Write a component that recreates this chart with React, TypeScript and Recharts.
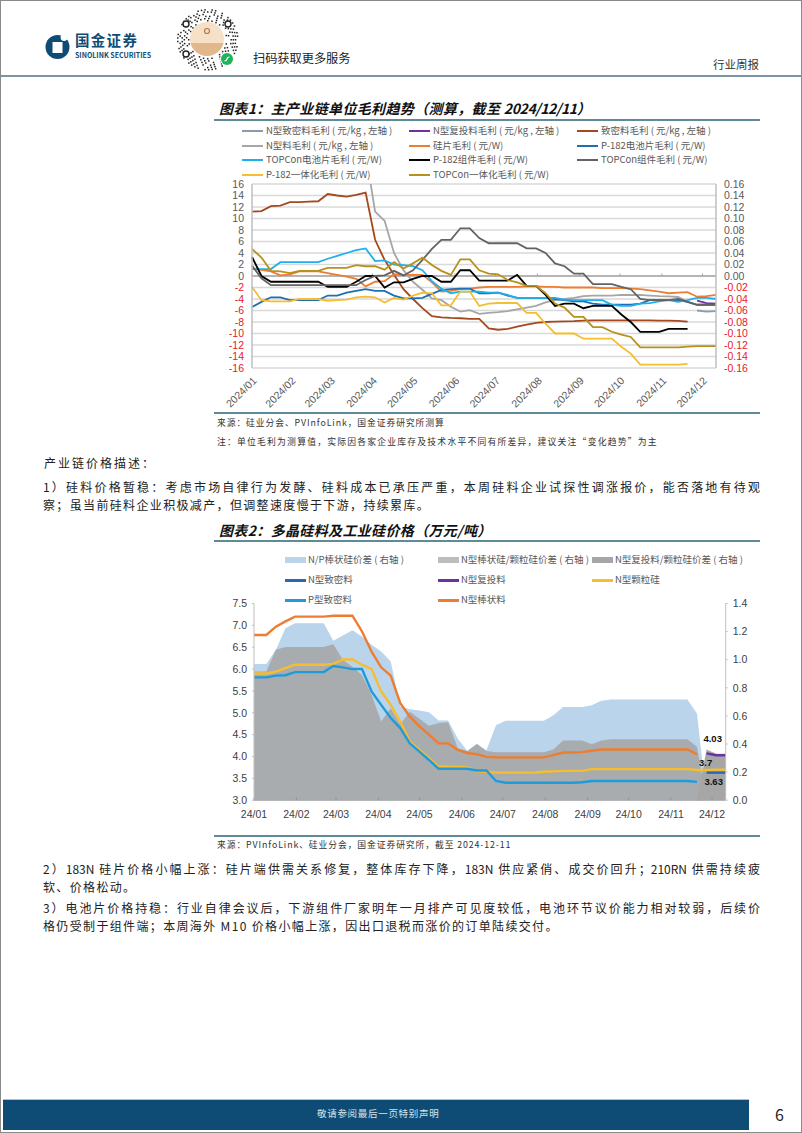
import React from 'react';
import {
  Area,
  ComposedChart,
  LabelList,
  Line,
  LineChart,
  CartesianGrid,
  ReferenceLine,
  XAxis,
  YAxis,
} from 'recharts';

const FONT = '"Noto Sans CJK SC", "Noto Sans", sans-serif';
const AXIS_FONT = '"Liberation Sans", "Noto Sans", sans-serif';
const TEXT_COLOR = '#595959';
const RED = '#e3202c';

// ---- chart 1: days since the first weekly reading (2024-01-03)
const marginDays = [
  0, 7, 14, 21, 28, 35, 42, 49, 56, 63, 70, 77, 84, 91, 98, 105, 112, 119, 126, 133, 140, 147, 154, 161, 168,
  175, 182, 189, 196, 203, 210, 217, 224, 231, 238, 245, 252, 259, 266, 273, 280, 287, 294, 301, 308, 315, 322, 329, 336, 343,
];
const marginMonthDays = [0, 29, 58, 89, 119, 150, 180, 211, 242, 272, 303, 333];
const marginMonthLabels = ['2024/01', '2024/02', '2024/03', '2024/04', '2024/05', '2024/06', '2024/07', '2024/08', '2024/09', '2024/10', '2024/11', '2024/12'];
const leftTicks = [16, 14, 12, 10, 8, 6, 4, 2, 0, -2, -4, -6, -8, -10, -12, -14, -16];
const rightTicks = [0.16, 0.14, 0.12, 0.1, 0.08, 0.06, 0.04, 0.02, 0, -0.02, -0.04, -0.06, -0.08, -0.1, -0.12, -0.14, -0.16];

const _ = null;
const denseMargin = [
  11.2, 11.3, 12.15, 12.25, 12.85, 12.85, 12.95, 13.0, 14.25, 14.0, 13.8, 14.1, 14.5, 6.3, 2.8, 0.2, -2.3, -4.0, -5.6, -7.0, -7.2, -7.3, -7.35, -7.45, -7.45,
  -9.1, -9.35, -9.2, -8.8, -8.45, -8.15, -8.0, -7.95, -7.9, -7.85, -7.75, -7.7, -7.7, -7.7, -7.7, -7.7, -7.7, -7.7, -7.75, -7.75, -7.8, -7.95, _, _, _,
];
const nMaterialMargin = [
  _, _, _, _, _, _, _, _, _, _, _, _, 21.5, 11.2, 9.6, 4.0, 1.0, -1.0, -2.4, -3.9, -4.2, -5.35, -6.2, -5.95, -6.6,
  -6.4, -6.3, -6.1, -5.8, -5.5, -5.2, -4.6, -4.2, -4.0, -3.8, -3.5, -3.4, -3.4, -3.4, -3.3, -3.3, -3.3, -3.4, -3.5, -3.55, -3.65, -4.5, _, _, _,
];
const nDenseMargin = [
  _, _, _, _, _, _, _, _, _, _, _, _, _, _, _, _, _, _, _, _, _, _, _, _, _,
  _, _, _, _, _, _, _, _, _, _, _, _, _, _, _, _, _, _, _, _, _, _, -6.0, -6.2, -6.1,
];
const nRechargeMargin = [
  _, _, _, _, _, _, _, _, _, _, _, _, _, _, _, _, _, _, _, _, _, _, _, _, _,
  _, _, _, _, _, _, _, _, _, _, _, _, _, _, _, _, _, _, _, _, _, _, -4.3, -4.7, -4.8,
];
const waferMargin = [
  0.013, 0.0105, 0.008, 0.001, 0.003, 0.008, 0.008, 0.008, 0.005, 0.002, -0.001, -0.005, -0.018, -0.01, -0.009, 0.003, 0.002, 0.002, 0.002, -0.011, -0.027, -0.026, -0.023, -0.022, -0.02,
  -0.019, -0.019, -0.019, -0.019, -0.018, -0.018, -0.019, -0.019, -0.02, -0.02, -0.02, -0.02, -0.021, -0.021, -0.021, -0.022, -0.023, -0.025, -0.027, -0.03, -0.029, -0.028, -0.036, -0.035, -0.033,
];
const p182CellMargin = [
  -0.054, -0.045, -0.037, -0.037, -0.042, -0.042, -0.042, -0.042, -0.034, -0.034, -0.029, -0.026, -0.023, -0.026, -0.026, -0.034, -0.039, -0.039, -0.038, -0.031, -0.024, -0.023, -0.022, -0.022, -0.03,
  -0.03, -0.029, -0.034, -0.038, -0.038, -0.038, -0.038, -0.04, -0.042, -0.044, -0.044, -0.048, -0.05, -0.05, -0.05, -0.05, -0.048, -0.042, -0.042, -0.042, -0.042, -0.045, -0.05, -0.05, -0.05,
];
const topconCellMargin = [
  0.012, 0.012, 0.012, 0.024, 0.024, 0.024, 0.024, 0.024, 0.03, 0.035, 0.04, 0.045, 0.048, 0.026, 0.027, 0.02, 0.019, 0.017, 0.01, -0.009, -0.022, -0.03, -0.027, -0.027, -0.027,
  -0.029, -0.029, -0.033, -0.038, -0.038, -0.038, -0.038, -0.038, -0.041, -0.042, -0.042, -0.042, -0.042, -0.05, -0.052, -0.052, -0.048, -0.047, -0.044, -0.042, -0.045, -0.042, -0.038, -0.038, -0.04,
];
const p182ModuleMargin = [
  0.033, 0, -0.01, -0.01, -0.01, -0.01, -0.01, -0.01, -0.019, -0.019, -0.019, -0.01, 0, 0, -0.02, -0.011, -0.011, -0.005, 0, 0, -0.01, -0.01, 0.01, 0.01, -0.008,
  -0.008, -0.008, -0.008, 0.002, -0.017, -0.017, -0.033, -0.052, -0.048, -0.048, -0.056, -0.052, -0.052, -0.052, -0.067, -0.08, -0.097, -0.097, -0.097, -0.092, -0.092, -0.092, _, _, _,
];
const topconModuleMargin = [
  0.018, -0.004, -0.016, -0.016, -0.016, -0.016, -0.016, -0.016, -0.016, -0.016, -0.016, -0.016, -0.007, 0, 0.001, 0.009, 0.001, 0.01, 0.028, 0.047, 0.063, 0.063, 0.083, 0.083, 0.066,
  0.057, 0.057, 0.057, 0.057, 0.048, 0.048, 0.04, 0.022, 0.017, 0.004, 0.004, -0.014, -0.014, -0.014, -0.019, -0.023, -0.04, -0.042, -0.042, -0.042, -0.04, -0.045, -0.05, -0.05, -0.05,
];
const p182IntegratedMargin = [
  -0.019, -0.042, -0.044, -0.044, -0.044, -0.04, -0.04, -0.04, -0.043, -0.042, -0.041, -0.037, -0.036, -0.037, -0.046, -0.038, -0.041, -0.034, -0.029, -0.03, -0.051, -0.051, -0.027, -0.027, -0.052,
  -0.048, -0.047, -0.047, -0.047, -0.064, -0.064, -0.083, -0.1, -0.1, -0.1, -0.109, -0.109, -0.109, -0.109, -0.123, -0.135, -0.154, -0.154, -0.154, -0.154, -0.154, -0.153, _, _, _,
];
const topconIntegratedMargin = [
  0.047, 0.032, 0.009, 0.008, 0.005, 0.009, 0.009, 0.009, 0.014, 0.014, 0.014, 0.019, 0.017, 0.017, 0.011, 0.024, 0.013, 0.022, 0.032, 0.019, 0.009, 0.002, 0.029, 0.029, 0.01,
  0.004, 0.003, -0.007, -0.011, -0.017, -0.017, -0.03, -0.048, -0.055, -0.071, -0.071, -0.089, -0.089, -0.097, -0.102, -0.106, -0.124, -0.124, -0.124, -0.124, -0.124, -0.123, -0.122, -0.122, -0.122,
];

type MarginSeries = { key: string; name: string; color: string; axis: 'left' | 'right'; values: (number | null)[] };

const marginSeries: MarginSeries[] = [
  { key: 'nDense', name: 'N型致密料毛利 ( 元/kg , 左轴 )', color: '#8a9bb0', axis: 'left', values: nDenseMargin },
  { key: 'nRecharge', name: 'N型复投料毛利 ( 元/kg , 左轴 )', color: '#7030a0', axis: 'left', values: nRechargeMargin },
  { key: 'dense', name: '致密料毛利 ( 元/kg , 左轴 )', color: '#a5481c', axis: 'left', values: denseMargin },
  { key: 'nMaterial', name: 'N型料毛利 ( 元/kg , 左轴 )', color: '#a6a6a6', axis: 'left', values: nMaterialMargin },
  { key: 'wafer', name: '硅片毛利 ( 元/W)', color: '#ed7d31', axis: 'right', values: waferMargin },
  { key: 'p182Cell', name: 'P-182电池片毛利 ( 元/W)', color: '#1f6fb5', axis: 'right', values: p182CellMargin },
  { key: 'topconCell', name: 'TOPCon电池片毛利 ( 元/W)', color: '#1fb0ec', axis: 'right', values: topconCellMargin },
  { key: 'p182Module', name: 'P-182组件毛利 ( 元/W)', color: '#000000', axis: 'right', values: p182ModuleMargin },
  { key: 'topconModule', name: 'TOPCon组件毛利 ( 元/W)', color: '#636363', axis: 'right', values: topconModuleMargin },
  { key: 'p182Integrated', name: 'P-182一体化毛利 ( 元/W)', color: '#f6bd2e', axis: 'right', values: p182IntegratedMargin },
  { key: 'topconIntegrated', name: 'TOPCon一体化毛利 ( 元/W)', color: '#b8901c', axis: 'right', values: topconIntegratedMargin },
];

const marginData = marginDays.map((day, i) => {
  const row: Record<string, number | null> = { day };
  marginSeries.forEach((s) => {
    row[s.key] = s.values[i];
  });
  return row;
});

// ---- chart 2: days since 2024-01-01
const priceDays = [
  0, 9, 16, 23, 30, 37, 44, 51, 58, 65, 72, 79, 86, 93, 100, 107, 114, 121, 128, 135, 142, 149, 156, 163, 170,
  177, 184, 191, 198, 205, 212, 219, 226, 233, 240, 247, 254, 261, 268, 275, 282, 289, 296, 303, 310, 317, 324, 331, 338, 345,
];
const priceMonthDays = [0, 31, 60, 91, 121, 152, 182, 213, 244, 274, 305, 335];
const priceMonthLabels = ['24/01', '24/02', '24/03', '24/04', '24/05', '24/06', '24/07', '24/08', '24/09', '24/10', '24/11', '24/12'];
const priceTicks = [3, 3.5, 4, 4.5, 5, 5.5, 6, 6.5, 7, 7.5];
const spreadTicks = [0, 0.2, 0.4, 0.6, 0.8, 1, 1.2, 1.4];

const npRodSpread = [
  0.97, 0.97, 1.07, 1.224, 1.26, 1.26, 1.26, 1.26, 1.134, 1.172, 1.21, 1.165, 1.106, 1.058, 0.987, 0.667, 0.648, 0.638, 0.626, 0.567, 0.567, 0.44, 0.35, 0.4, 0.356,
  0.534, 0.565, 0.565, 0.565, 0.565, 0.565, 0.605, 0.664, 0.664, 0.664, 0.676, 0.707, 0.717, 0.717, 0.717, 0.717, 0.717, 0.717, 0.717, 0.717, 0.717, 0.617, 0, _, _,
];
const nRodGranularSpread = [
  0.916, 0.916, 1.07, 1.09, 1.09, 1.09, 1.09, 1.09, 1.11, 1.0, 0.95, 0.89, 0.75, 0.56, 0.655, 0.54, 0.63, 0.58, 0.53, 0.55, 0.555, 0.37, 0.35, 0.4, 0.351,
  0.342, 0.342, 0.342, 0.342, 0.342, 0.342, 0.361, 0.425, 0.425, 0.425, 0.399, 0.425, 0.434, 0.434, 0.434, 0.434, 0.434, 0.434, 0.434, 0.434, 0.434, 0.38, 0, _, _,
];
const nRechargeGranularSpread = [
  _, _, _, _, _, _, _, _, _, _, _, _, _, _, _, _, _, _, _, _, _, _, _, _, _,
  _, _, _, _, _, _, _, _, _, _, _, _, _, _, _, _, _, _, _, _, _, 0, 0.36, 0.33, 0.33,
];
const nRodPrice = [
  6.78, 6.78, 6.97, 7.09, 7.2, 7.2, 7.2, 7.2, 7.22, 7.22, 7.22, 6.86, 6.4, 6.04, 5.85, 5.22, 4.91, 4.69, 4.5, 4.3, 4.3, 4.15, 4.08, 4.05, 3.99,
  3.98, 3.98, 3.98, 3.98, 3.98, 3.98, 4.03, 4.09, 4.09, 4.1, 4.13, 4.16, 4.16, 4.16, 4.16, 4.16, 4.16, 4.16, 4.16, 4.16, 4.16, 4.05, _, _, _,
];
const nGranularPrice = [
  5.9, 5.9, 5.94, 6.02, 6.1, 6.1, 6.1, 6.1, 6.12, 6.22, 6.22, 6.1, 6.0, 5.49, 5.18, 4.8, 4.34, 4.15, 3.96, 3.77, 3.76, 3.76, 3.75, 3.66, 3.65,
  3.63, 3.63, 3.63, 3.63, 3.63, 3.65, 3.66, 3.67, 3.67, 3.67, 3.71, 3.71, 3.71, 3.71, 3.71, 3.71, 3.71, 3.71, 3.71, 3.71, 3.71, 3.69, 3.69, 3.7, 3.7,
];
const pDensePrice = [
  5.81, 5.81, 5.85, 5.86, 5.93, 5.93, 5.93, 5.93, 6.07, 6.04, 6.0, 6.0, 5.49, 5.18, 4.88, 4.65, 4.3, 4.11, 3.92, 3.72, 3.72, 3.72, 3.72, 3.68, 3.68,
  3.44, 3.4, 3.4, 3.4, 3.4, 3.4, 3.4, 3.4, 3.4, 3.41, 3.44, 3.44, 3.44, 3.44, 3.44, 3.44, 3.44, 3.44, 3.44, 3.44, 3.44, 3.42, _, _, _,
];
const nDensePrice = [
  _, _, _, _, _, _, _, _, _, _, _, _, _, _, _, _, _, _, _, _, _, _, _, _, _,
  _, _, _, _, _, _, _, _, _, _, _, _, _, _, _, _, _, _, _, _, _, _, 3.63, 3.63, 3.63,
];
const nRechargePrice = [
  _, _, _, _, _, _, _, _, _, _, _, _, _, _, _, _, _, _, _, _, _, _, _, _, _,
  _, _, _, _, _, _, _, _, _, _, _, _, _, _, _, _, _, _, _, _, _, _, 4.07, 4.03, 4.03,
];

const priceData = priceDays.map((day, i) => ({
  day,
  npRodSpread: npRodSpread[i],
  nRodGranularSpread: nRodGranularSpread[i],
  nRechargeGranularSpread: nRechargeGranularSpread[i],
  nDensePrice: nDensePrice[i],
  nRechargePrice: nRechargePrice[i],
  nGranularPrice: nGranularPrice[i],
  pDensePrice: pDensePrice[i],
  nRodPrice: nRodPrice[i],
}));

const priceLegend = [
  { name: 'N/P棒状硅价差 ( 右轴 )', color: '#bad4ec', swatch: true, col: 0, row: 0 },
  { name: 'N型棒状硅/颗粒硅价差 ( 右轴 )', color: '#bdbdbd', swatch: true, col: 1, row: 0 },
  { name: 'N型复投料/颗粒硅价差 ( 右轴 )', color: '#a6a6a6', swatch: true, col: 2, row: 0 },
  { name: 'N型致密料', color: '#2b68ad', swatch: false, col: 0, row: 1 },
  { name: 'N型复投料', color: '#7030a0', swatch: false, col: 1, row: 1 },
  { name: 'N型颗粒硅', color: '#f6bd2e', swatch: false, col: 2, row: 1 },
  { name: 'P型致密料', color: '#1f9bd9', swatch: false, col: 0, row: 2 },
  { name: 'N型棒状料', color: '#ed7d31', swatch: false, col: 1, row: 2 },
];

// ---- page text
const para1 = [
  '1）硅料价格暂稳：考虑市场自律行为发酵、硅料成本已承压严重，本周硅料企业试探性调涨报价，能否落地有待观',
  '察；虽当前硅料企业积极减产，但调整速度慢于下游，持续累库。',
];
const para2 = [
  '2）183N 硅片价格小幅上涨：硅片端供需关系修复，整体库存下降，183N 供应紧俏、成交价回升；210RN 供需持续疲',
  '软、价格松动。',
];
const para3 = [
  '3）电池片价格持稳：行业自律会议后，下游组件厂家明年一月排产可见度较低，电池环节议价能力相对较弱，后续价',
  '格仍受制于组件端；本周海外 M10 价格小幅上涨，因出口退税而涨价的订单陆续交付。',
];

const at = (left: number, top: number): React.CSSProperties => ({ position: 'absolute', left, top, whiteSpace: 'nowrap' });

const Label = ({ x, y, size = 9, color = '#333', children, style }: any) => (
  <div style={{ ...at(x, y), fontFamily: FONT, fontSize: size, lineHeight: 1, color, ...style }}>{children}</div>
);

const ChartTitle = ({ y, children }: any) => (
  <Label x={219} y={y} size={14} color="#111" style={{ fontWeight: 700, fontStyle: 'italic', letterSpacing: 0.35 }}>
    {children}
  </Label>
);

const Rule = ({ y, left = 214, width = 546 }: any) => (
  <div style={{ position: 'absolute', left, top: y, width, height: 2, background: '#5f8a9c' }} />
);

const BodyLines = ({ lines, y, step }: { lines: string[]; y: number; step: number }) => (
  <>
    {lines.map((line, i) => (
      <div
        key={line}
        style={{
          position: 'absolute',
          left: 43,
          top: y + i * step,
          width: i === 0 ? 717 : undefined,
          whiteSpace: i === 0 ? 'normal' : 'nowrap',
          textAlign: i === 0 ? 'justify' : 'left',
          textAlignLast: i === 0 ? 'justify' : 'left',
          fontFamily: FONT,
          fontSize: 12,
          lineHeight: '14px',
          letterSpacing: i === 0 ? 0 : 1.35,
          color: '#222',
        }}
      >
        {line}
      </div>
    ))}
  </>
);

const SignedTick = ({ x, y, payload, decimals, anchor }: any) => (
  <text
    x={x}
    y={y}
    dy={3.5}
    textAnchor={anchor}
    fontFamily={AXIS_FONT}
    fontSize={10.5}
    fill={payload.value < 0 ? RED : TEXT_COLOR}
  >
    {payload.value.toFixed(decimals)}
  </text>
);

const DataEndLabel = ({ x, y, index, value, dx, dy }: any) =>
  index === priceDays.length - 1 ? (
    <text x={x + dx} y={y + dy} textAnchor="middle" fontFamily={AXIS_FONT} fontSize={9.5} fontWeight={700} fill="#111">
      {value}
    </text>
  ) : null;

const MarginChart = () => (
  <div style={{ position: 'absolute', left: 215, top: 175 }}>
    <LineChart width={545} height={240} data={marginData} margin={{ top: 9, right: 0, bottom: 0, left: 0 }}>
      <CartesianGrid vertical={false} stroke="#d9d9d9" strokeWidth={1.5} yAxisId="left" />
      <XAxis
        dataKey="day"
        type="number"
        domain={[0, 343]}
        ticks={marginMonthDays}
        interval={0}
        height={47}
        axisLine={false}
        tickLine={false}
        angle={-45}
        textAnchor="end"
        tickMargin={2}
        tick={{ fontFamily: AXIS_FONT, fontSize: 10.5, fill: TEXT_COLOR }}
        tickFormatter={(d: number) => marginMonthLabels[marginMonthDays.indexOf(d)]}
      />
      <YAxis
        yAxisId="left"
        domain={[-16, 16]}
        ticks={leftTicks}
        interval={0}
        allowDataOverflow
        width={37}
        axisLine={{ stroke: '#bfbfbf', strokeWidth: 1.5 }}
        tickLine={false}
        tick={<SignedTick decimals={0} anchor="end" />}
      />
      <YAxis
        yAxisId="right"
        orientation="right"
        domain={[-0.16, 0.16]}
        ticks={rightTicks}
        interval={0}
        allowDataOverflow
        width={44}
        axisLine={{ stroke: '#bfbfbf', strokeWidth: 1.5 }}
        tickLine={false}
        tick={<SignedTick decimals={2} anchor="start" />}
      />
      <ReferenceLine yAxisId="left" y={0} stroke="#a6a6a6" strokeWidth={1.5} />
      {marginMonthDays.map((d) => (
        <ReferenceLine
          key={d}
          yAxisId="left"
          segment={[{ x: d, y: 0 }, { x: d, y: 0.45 }]}
          stroke="#a6a6a6"
        />
      ))}
      {marginSeries.map((s) => (
        <Line
          key={s.key}
          yAxisId={s.axis}
          dataKey={s.key}
          name={s.name}
          stroke={s.color}
          strokeWidth={1.8}
          dot={false}
          isAnimationActive={false}
        />
      ))}
    </LineChart>
  </div>
);

const PriceChart = () => (
  <div style={{ position: 'absolute', left: 215, top: 595 }}>
    <ComposedChart width={545} height={245} data={priceData} margin={{ top: 8.5, right: 0, bottom: 0, left: 0 }}>
      <XAxis
        dataKey="day"
        type="number"
        domain={[0, 345]}
        ticks={priceMonthDays}
        interval={0}
        height={39.8}
        axisLine={{ stroke: '#a6a6a6', strokeWidth: 1.25 }}
        tickLine={false}
        tickMargin={4}
        tick={{ fontFamily: AXIS_FONT, fontSize: 10.5, fill: '#404040' }}
        tickFormatter={(d: number) => priceMonthLabels[priceMonthDays.indexOf(d)]}
      />
      <YAxis
        yAxisId="price"
        domain={[3, 7.5]}
        ticks={priceTicks}
        interval={0}
        width={39}
        axisLine={{ stroke: '#bfbfbf' }}
        tickLine={{ stroke: '#bfbfbf' }}
        tickSize={2}
        tickMargin={5}
        tick={{ fontFamily: AXIS_FONT, fontSize: 10.5, fill: '#404040' }}
        tickFormatter={(v: number) => v.toFixed(1)}
      />
      <YAxis
        yAxisId="spread"
        orientation="right"
        domain={[0, 1.4]}
        ticks={spreadTicks}
        interval={0}
        width={34.3}
        axisLine={{ stroke: '#bfbfbf' }}
        tickLine={{ stroke: '#bfbfbf' }}
        tickSize={2}
        tickMargin={5}
        tick={{ fontFamily: AXIS_FONT, fontSize: 10.5, fill: '#404040' }}
        tickFormatter={(v: number) => v.toFixed(1)}
      />
      <Area yAxisId="spread" dataKey="npRodSpread" stroke="none" fill="#bad4ec" fillOpacity={1} isAnimationActive={false} />
      <Area yAxisId="spread" dataKey="nRodGranularSpread" stroke="none" fill="#a6a6a6" fillOpacity={0.88} isAnimationActive={false} />
      <Area yAxisId="spread" dataKey="nRechargeGranularSpread" stroke="none" fill="#a6a6a6" fillOpacity={1} isAnimationActive={false} />
      {priceMonthDays.map((d) => (
        <ReferenceLine
          key={d}
          yAxisId="spread"
          segment={[{ x: d, y: 0 }, { x: d, y: 0.018 }]}
          stroke="#8c8c8c"
        />
      ))}
      <Line yAxisId="price" dataKey="nRodPrice" stroke="#ed7d31" strokeWidth={2.4} dot={false} isAnimationActive={false} />
      <Line yAxisId="price" dataKey="nGranularPrice" stroke="#f6bd2e" strokeWidth={2.4} dot={false} isAnimationActive={false}>
        <LabelList dataKey="nGranularPrice" content={<DataEndLabel dx={-20} dy={-4} />} formatter={(v: number) => v} />
      </Line>
      <Line yAxisId="price" dataKey="pDensePrice" stroke="#1f9bd9" strokeWidth={2.4} dot={false} isAnimationActive={false} />
      <Line yAxisId="price" dataKey="nDensePrice" stroke="#2b68ad" strokeWidth={2.4} dot={false} isAnimationActive={false}>
        <LabelList dataKey="nDensePrice" content={<DataEndLabel dx={-12} dy={12} />} />
      </Line>
      <Line yAxisId="price" dataKey="nRechargePrice" stroke="#7030a0" strokeWidth={2.4} dot={false} isAnimationActive={false}>
        <LabelList dataKey="nRechargePrice" content={<DataEndLabel dx={-13} dy={-13} />} />
      </Line>
    </ComposedChart>
  </div>
);

const LegendLine = ({ x, y, color, name }: any) => (
  <>
    <div style={{ position: 'absolute', left: x, top: y - 1, width: 21, height: 2, background: color }} />
    <Label x={x + 24} y={y - 5} size={9.5} color={TEXT_COLOR}>{name}</Label>
  </>
);

const QrMark = () => {
  // decorative only: concentric dotted rings standing in for the mini-program code
  const dots: React.ReactNode[] = [];
  for (let ring = 0; ring < 6; ring++) {
    const r = 19 + ring * 2.2;
    const count = 28 + ring * 5;
    for (let i = 0; i < count; i++) {
      if ((i * 7 + ring * 3) % 5 === 0 || (i * 3 + ring) % 7 === 1) continue;
      const a = (i / count) * Math.PI * 2;
      dots.push(<rect key={`${ring}-${i}`} x={32 + r * Math.cos(a)} y={32 + r * Math.sin(a)} width={1.5} height={1.5} fill="#222" />);
    }
  }
  return (
    <svg style={{ position: 'absolute', left: 175, top: 7 }} width={64} height={64}>
      {dots}
      {[[11, 17], [53, 17], [11, 47]].map(([cx, cy]) => (
        <circle key={cx + '-' + cy} cx={cx} cy={cy} r={3} fill="#fff" stroke="#222" strokeWidth={1.4} />
      ))}
      <circle cx={32} cy={32} r={17} fill="#f6e0c8" />
      <path d="M15.5 36 A17 17 0 0 0 48.5 36 Z" fill="#e3b78c" />
      <circle cx={32} cy={24} r={2.5} fill="none" stroke="#b27a44" strokeWidth={1.2} />
      <circle cx={52} cy={52} r={7} fill="#fff" />
      <circle cx={52} cy={52} r={6} fill="#1fb35c" />
      <path d="M49.5 54 q2 0 2.5 -2 q0.5 -2 2.5 -2" stroke="#fff" fill="none" strokeWidth={1.2} />
    </svg>
  );
};

const LogoMark = () => (
  <svg style={{ position: 'absolute', left: 45, top: 34 }} width={25} height={26}>
    <circle cx={12.5} cy={13} r={12} fill="#0f4c75" />
    <rect x={7.5} y={8} width={10} height={11} fill="#fff" />
    <circle cx={19} cy={3.5} r={3.4} fill="#fff" />
  </svg>
);

const App = () => (
  <div style={{ position: 'absolute', left: 0, top: 0, width: 802, height: 1133, background: '#fff', overflow: 'hidden' }}>
    <div style={{ position: 'absolute', left: 0, top: 0, width: 800, height: 1131, border: '1px solid #8a8a8a' }} />

    <LogoMark />
    <Label x={75} y={33} size={14.5} color="#0f4c75" style={{ fontWeight: 700, letterSpacing: 1.3 }}>国金证券</Label>
    <Label x={75} y={51.5} size={7} color="#0f4c75" style={{ fontWeight: 700 }}>SINOLINK SECURITIES</Label>
    <QrMark />
    <Label x={253} y={52} size={12.2} color="#222">扫码获取更多服务</Label>
    <Label x={713} y={59} size={11.5} color="#333">行业周报</Label>
    <div style={{ position: 'absolute', left: 1, top: 75, width: 800, height: 2, background: '#7a95a6' }} />

    <ChartTitle y={101}>
      图表1：主产业链单位毛利趋势（测算，截至 <span style={{ letterSpacing: -0.4 }}>2024/12/11</span>）
    </ChartTitle>
    <Rule y={119} />
    {marginSeries.map((s, i) => (
      <LegendLine
        key={s.key}
        x={[242, 409, 577][i % 3]}
        y={[131, 145.5, 159.5, 174.5][Math.floor(i / 3)]}
        color={s.color}
        name={s.name}
      />
    ))}
    <MarginChart />
    <Rule y={412} />
    <Label x={217} y={419} size={8.8} color="#333" style={{ letterSpacing: 0.9 }}>来源：硅业分会、PVInfoLink，国金证券研究所测算</Label>
    <Label x={217} y={438} size={8.8} color="#333" style={{ letterSpacing: 1.22 }}>注：单位毛利为测算值，实际因各家企业库存及技术水平不同有所差异，建议关注“变化趋势”为主</Label>

    <Label x={44} y={457} size={12} color="#222" style={{ letterSpacing: 2 }}>产业链价格描述：</Label>
    <BodyLines lines={para1} y={480} step={18} />

    <ChartTitle y={523}>图表2：多晶硅料及工业硅价格（万元/吨）</ChartTitle>
    <Rule y={540} />
    {priceLegend.map((l) => {
      const x = [285, 438, 592][l.col];
      const y = [559.5, 580, 600][l.row];
      return l.swatch ? (
        <React.Fragment key={l.name}>
          <div style={{ position: 'absolute', left: x, top: y - 3, width: 21, height: 6, background: l.color }} />
          <Label x={x + 23} y={y - 5} size={9.5} color={TEXT_COLOR}>{l.name}</Label>
        </React.Fragment>
      ) : (
        <React.Fragment key={l.name}>
          <div style={{ position: 'absolute', left: x, top: y - 1, width: 21, height: 2.5, background: l.color }} />
          <Label x={x + 23} y={y - 5} size={9.5} color={TEXT_COLOR}>{l.name}</Label>
        </React.Fragment>
      );
    })}
    <PriceChart />
    <Rule y={835} />
    <Label x={217} y={840.5} size={8.8} color="#333" style={{ letterSpacing: 0.9 }}>来源：PVInfoLink、硅业分会，国金证券研究所，截至 2024-12-11</Label>

    <BodyLines lines={para2} y={862} step={17.5} />
    <BodyLines lines={para3} y={901} step={18} />

    <div style={{ position: 'absolute', left: 3, top: 1099, width: 746, height: 31, background: '#0f4c75', borderTop: '1px solid #9cc7dc', boxSizing: 'border-box' }} />
    <Label x={317} y={1108.5} size={9.5} color="#d7e3ea" style={{ letterSpacing: 0.7 }}>敬请参阅最后一页特别声明</Label>
    <Label x={775} y={1106} size={16} color="#222">6</Label>
  </div>
);

export default App;
